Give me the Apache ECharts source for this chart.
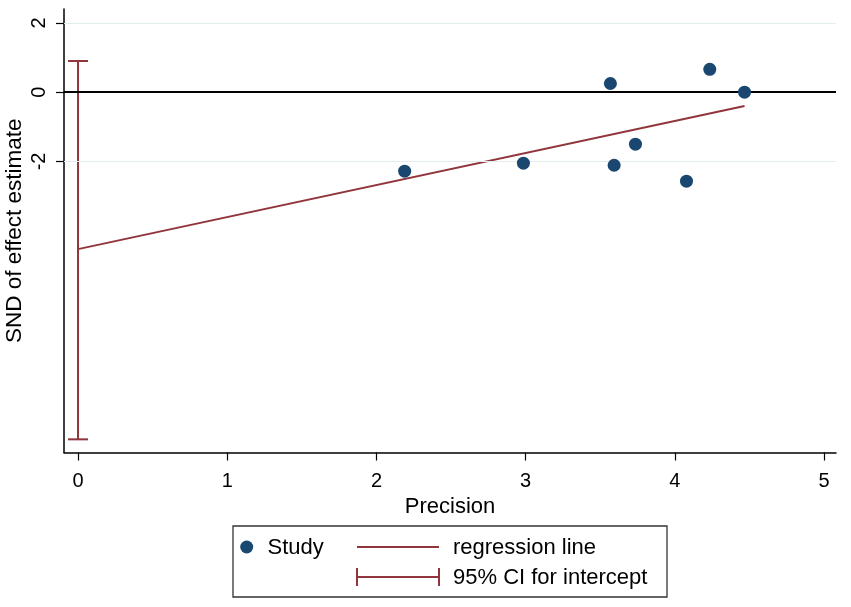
<!DOCTYPE html>
<html><head><meta charset="utf-8">
<script src="https://cdn.jsdelivr.net/npm/echarts@6/dist/echarts.min.js"></script>
<style>html,body{margin:0;padding:0;background:#fff}#c{width:851px;height:607px}</style>
</head><body><div id="c"></div>
<script>
// Data
const precision = [2.189, 2.985, 3.568, 3.593, 3.736, 4.078, 4.234, 4.467];
const snd = [-2.28, -2.05, 0.25, -2.11, -1.50, -2.57, 0.66, 0.00];
const regX = [0, 4.467];
const regY = [-4.53, -0.40];
const ciX = 0;
const ciLow = -10.02;
const ciHigh = 0.90;
const xTicks = [0, 1, 2, 3, 4, 5];
const yTicks = [-2, 0, 2];
const gridYLines = [-2, 2];
const refLine = 0;

const FONT = "'Liberation Sans', Arial, sans-serif";
const NAVY = '#1a476f';
const MAROON = '#90353b';

const chart = echarts.init(document.getElementById('c'), null, {renderer: 'canvas'});

const option = {
  animation: false,
  backgroundColor: '#fff',
  textStyle: {fontFamily: FONT},
  grid: {left: 64, right: 15, top: 9, bottom: 154.5, containLabel: false, outerBoundsMode: 'none'},
  xAxis: {
    type: 'value', min: -0.094, max: 5.08,
    name: 'Precision', nameLocation: 'middle', nameGap: 37,
    nameTextStyle: {fontSize: 22, color: '#000', fontFamily: FONT},
    axisLine: {show: true, onZero: false, lineStyle: {color: '#000', width: 1.5}},
    axisTick: {show: true, length: 8, customValues: xTicks, lineStyle: {color: '#000', width: 1.2}},
    axisLabel: {customValues: xTicks, fontSize: 20, color: '#000', margin: 19, fontFamily: FONT},
    splitLine: {show: false}
  },
  yAxis: {
    type: 'value', min: -10.4, max: 2.4,
    name: 'SND of effect estimate', nameLocation: 'middle', nameGap: 38, nameMoveOverlap: false,
    nameTextStyle: {fontSize: 22.5, color: '#000', fontFamily: FONT},
    axisLine: {show: true, onZero: false, lineStyle: {color: '#000', width: 1.5}},
    axisTick: {show: true, length: 8, customValues: yTicks, lineStyle: {color: '#000', width: 1.2}},
    axisLabel: {customValues: yTicks, rotate: 90, fontSize: 20, color: '#000', margin: 15, fontFamily: FONT},
    splitLine: {show: false}
  },
  series: [
    {
      type: 'line', name: 'grid', data: [], silent: true,
      markLine: {
        silent: true, symbol: ['none', 'none'], label: {show: false},
        lineStyle: {color: '#e3edf0', width: 1.2, type: 'solid'},
        data: gridYLines.map(v => ({yAxis: v}))
      }
    },
    {
      type: 'line', name: 'ref', data: [], silent: true,
      markLine: {
        silent: true, symbol: ['none', 'none'], label: {show: false},
        lineStyle: {color: '#000', width: 2, type: 'solid'},
        data: [{yAxis: refLine}]
      }
    },
    {
      type: 'custom', name: '95% CI for intercept',
      renderItem: function (params, api) {
        const x = api.value(0), lo = api.value(1), hi = api.value(2);
        const pLo = api.coord([x, lo]);
        const pHi = api.coord([x, hi]);
        const hw = 10;
        const st = {stroke: MAROON, lineWidth: 2};
        return {type: 'group', children: [
          {type: 'line', shape: {x1: pLo[0], y1: pLo[1], x2: pHi[0], y2: pHi[1]}, style: st},
          {type: 'line', shape: {x1: pLo[0] - hw, y1: pLo[1], x2: pLo[0] + hw, y2: pLo[1]}, style: st},
          {type: 'line', shape: {x1: pHi[0] - hw, y1: pHi[1], x2: pHi[0] + hw, y2: pHi[1]}, style: st}
        ]};
      },
      encode: {x: 0, y: [1, 2]},
      data: [[ciX, ciLow, ciHigh]],
      z: 3
    },
    {
      type: 'line', name: 'regression line',
      data: regX.map((x, i) => [x, regY[i]]),
      symbol: 'none', lineStyle: {color: MAROON, width: 2}, z: 4
    },
    {
      type: 'scatter', name: 'Study',
      data: precision.map((x, i) => [x, snd[i]]),
      symbol: 'circle', symbolSize: 13,
      itemStyle: {color: NAVY, opacity: 1}, z: 5
    }
  ],
  graphic: [
    {type: 'rect', shape: {x: 233, y: 526, width: 434, height: 71}, style: {fill: '#fff', stroke: '#333', lineWidth: 1.3}},
    {type: 'circle', shape: {cx: 246.7, cy: 547, r: 6.5}, style: {fill: NAVY}},
    {type: 'text', x: 267.5, y: 548, style: {text: 'Study', fontSize: 22, fill: '#000', fontFamily: FONT, verticalAlign: 'middle'}},
    {type: 'line', shape: {x1: 357, y1: 547, x2: 439, y2: 547}, style: {stroke: MAROON, lineWidth: 2}},
    {type: 'text', x: 453, y: 548, style: {text: 'regression line', fontSize: 22, fill: '#000', fontFamily: FONT, verticalAlign: 'middle'}},
    {type: 'line', shape: {x1: 357, y1: 577, x2: 439, y2: 577}, style: {stroke: MAROON, lineWidth: 2}},
    {type: 'line', shape: {x1: 357, y1: 568, x2: 357, y2: 586}, style: {stroke: MAROON, lineWidth: 2}},
    {type: 'line', shape: {x1: 439, y1: 568, x2: 439, y2: 586}, style: {stroke: MAROON, lineWidth: 2}},
    {type: 'text', x: 453, y: 578, style: {text: '95% CI for intercept', fontSize: 22, fill: '#000', fontFamily: FONT, verticalAlign: 'middle'}}
  ]
};
chart.setOption(option);
</script>
</body></html>
